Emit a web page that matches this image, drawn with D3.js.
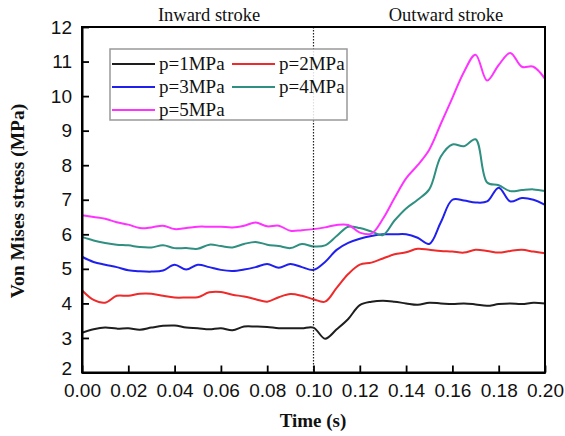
<!DOCTYPE html>
<html><head><meta charset="utf-8">
<script src="https://cdn.jsdelivr.net/npm/d3@7/dist/d3.min.js"></script>
<style>body{margin:0;background:#fff}</style>
</head><body>
<svg id="chart" width="565" height="436"></svg>
<script>
const time = d3.range(41).map(i => +(i * 0.005).toFixed(3));
const p1 = [3.15,3.25,3.3,3.27,3.28,3.24,3.3,3.35,3.36,3.3,3.28,3.25,3.28,3.22,3.33,3.33,3.32,3.28,3.28,3.28,3.3,2.98,3.25,3.55,3.95,4.05,4.08,4.05,4.0,3.96,4.02,4.0,3.98,4.0,3.97,3.93,3.98,4.0,3.98,4.02,4.0];
const p2 = [4.38,4.1,4.02,4.22,4.22,4.28,4.28,4.22,4.17,4.17,4.18,4.32,4.33,4.25,4.2,4.12,4.05,4.18,4.27,4.22,4.12,4.05,4.45,4.85,5.12,5.18,5.3,5.42,5.48,5.58,5.55,5.52,5.5,5.47,5.55,5.52,5.47,5.52,5.55,5.5,5.45];
const p3 = [5.35,5.2,5.12,5.05,4.96,4.93,4.92,4.95,5.12,4.98,5.12,5.05,4.97,4.94,4.98,5.05,5.14,5.03,5.14,5.05,4.97,5.2,5.55,5.75,5.87,5.95,6.0,6.0,6.0,5.9,5.72,6.35,7.0,6.98,6.92,6.95,7.35,6.95,7.05,7.0,6.85];
const p4 = [5.92,5.82,5.75,5.7,5.68,5.63,5.62,5.68,5.6,5.6,5.58,5.7,5.66,5.62,5.72,5.78,5.7,5.66,5.6,5.72,5.65,5.68,5.95,6.22,6.18,6.08,5.98,6.4,6.75,7.0,7.3,8.25,8.6,8.55,8.75,7.5,7.42,7.25,7.28,7.3,7.25];
const p5 = [6.55,6.5,6.45,6.35,6.28,6.18,6.2,6.25,6.15,6.18,6.22,6.22,6.22,6.2,6.25,6.34,6.23,6.25,6.1,6.12,6.15,6.2,6.27,6.27,6.05,6.02,6.45,7.05,7.62,8.0,8.45,9.2,9.95,10.7,11.2,10.45,10.9,11.25,10.85,10.85,10.5];
const seriesNames = ["p=1MPa","p=2MPa","p=3MPa","p=4MPa","p=5MPa"];
const seriesValues = [p1,p2,p3,p4,p5];
const colors = ["#1e1e1e","#ee2a2a","#2020ee","#2f8f80","#ff33ff"];
const xTicks = [0,0.02,0.04,0.06,0.08,0.1,0.12,0.14,0.16,0.18,0.2];
const yTicks = [2,3,4,5,6,7,8,9,10,11,12];
const strokeLabels = ["Inward stroke","Outward stroke"];

const svg = d3.select("#chart");
const L = 82, R = 545, T = 27, B = 372.5;
const x = d3.scaleLinear().domain([0,0.2]).range([L,R]);
const y = d3.scaleLinear().domain([2,12]).range([B,T]);

const sans = "'Liberation Sans', Arial, sans-serif";
const serif = "'Liberation Serif', 'Times New Roman', serif";

const line = d3.line().x((d,i)=>x(time[i])).y(d=>y(d)).curve(d3.curveCatmullRom.alpha(0.5));
svg.append("clipPath").attr("id","c").append("rect").attr("x",L).attr("y",T).attr("width",R-L).attr("height",B-T);
const g = svg.append("g").attr("clip-path","url(#c)");
seriesValues.forEach((vals,k)=>{
  g.append("path").datum(vals).attr("d",line).attr("fill","none")
   .attr("stroke",colors[k]).attr("stroke-width",2);
});

svg.append("line").attr("x1",x(0.1)).attr("x2",x(0.1)).attr("y1",T).attr("y2",B)
  .attr("stroke","#222").attr("stroke-width",1.2).attr("stroke-dasharray","1.5,1.5");

svg.append("rect").attr("x",L).attr("y",T).attr("width",R-L).attr("height",B-T)
  .attr("fill","none").attr("stroke","#000").attr("stroke-width",2);

const xAxis = svg.append("g").attr("transform",`translate(0,${B})`)
  .call(d3.axisBottom(x).tickValues(xTicks).tickFormat(d3.format(".2f")).tickSizeInner(-7).tickSizeOuter(0).tickPadding(11));
const yAxis = svg.append("g").attr("transform",`translate(${L},0)`)
  .call(d3.axisLeft(y).tickValues(yTicks).tickFormat(d3.format("d")).tickSizeInner(-7).tickSizeOuter(0).tickPadding(10));
[xAxis,yAxis].forEach(a=>{
  a.select(".domain").attr("stroke","#000").attr("stroke-width",2);
  a.selectAll(".tick line").attr("stroke","#000").attr("stroke-width",1.8);
  a.selectAll(".tick text").attr("font-family",sans).attr("font-size",19).attr("fill","#111");
});
yAxis.selectAll(".tick").filter(d=>d===2).select("text").attr("y",-4);

svg.append("text").attr("x",209).attr("y",21).attr("text-anchor","middle")
  .attr("font-family",serif).attr("font-size",18.5).attr("fill","#111").text(strokeLabels[0]);
svg.append("text").attr("x",446).attr("y",21).attr("text-anchor","middle")
  .attr("font-family",serif).attr("font-size",18.5).attr("fill","#111").text(strokeLabels[1]);

svg.append("text").attr("x",313).attr("y",427).attr("text-anchor","middle")
  .attr("font-family",serif).attr("font-weight","bold").attr("font-size",19).attr("fill","#111").text("Time (s)");
svg.append("text").attr("transform","translate(24,201) rotate(-90)").attr("text-anchor","middle")
  .attr("font-family",serif).attr("font-weight","bold").attr("font-size",19.5).attr("fill","#111").text("Von Mises stress (MPa)");

const lg = svg.append("g");
lg.append("rect").attr("x",110).attr("y",49).attr("width",237).attr("height",71)
  .attr("fill","#fff").attr("fill-opacity",0.85).attr("stroke","#999").attr("stroke-width",1.5);
const pos = [[0,0],[1,0],[0,1],[1,1],[0,2]];
seriesNames.forEach((n,k)=>{
  const cx = 112 + pos[k][0]*120, cy = 64 + pos[k][1]*23;
  lg.append("line").attr("x1",cx).attr("x2",cx+43).attr("y1",cy).attr("y2",cy)
    .attr("stroke",colors[k]).attr("stroke-width",2);
  lg.append("text").attr("x",cx+47).attr("y",cy+6).attr("font-family",serif)
    .attr("font-size",19).attr("fill","#111").text(n);
});
</script>
</body></html>
